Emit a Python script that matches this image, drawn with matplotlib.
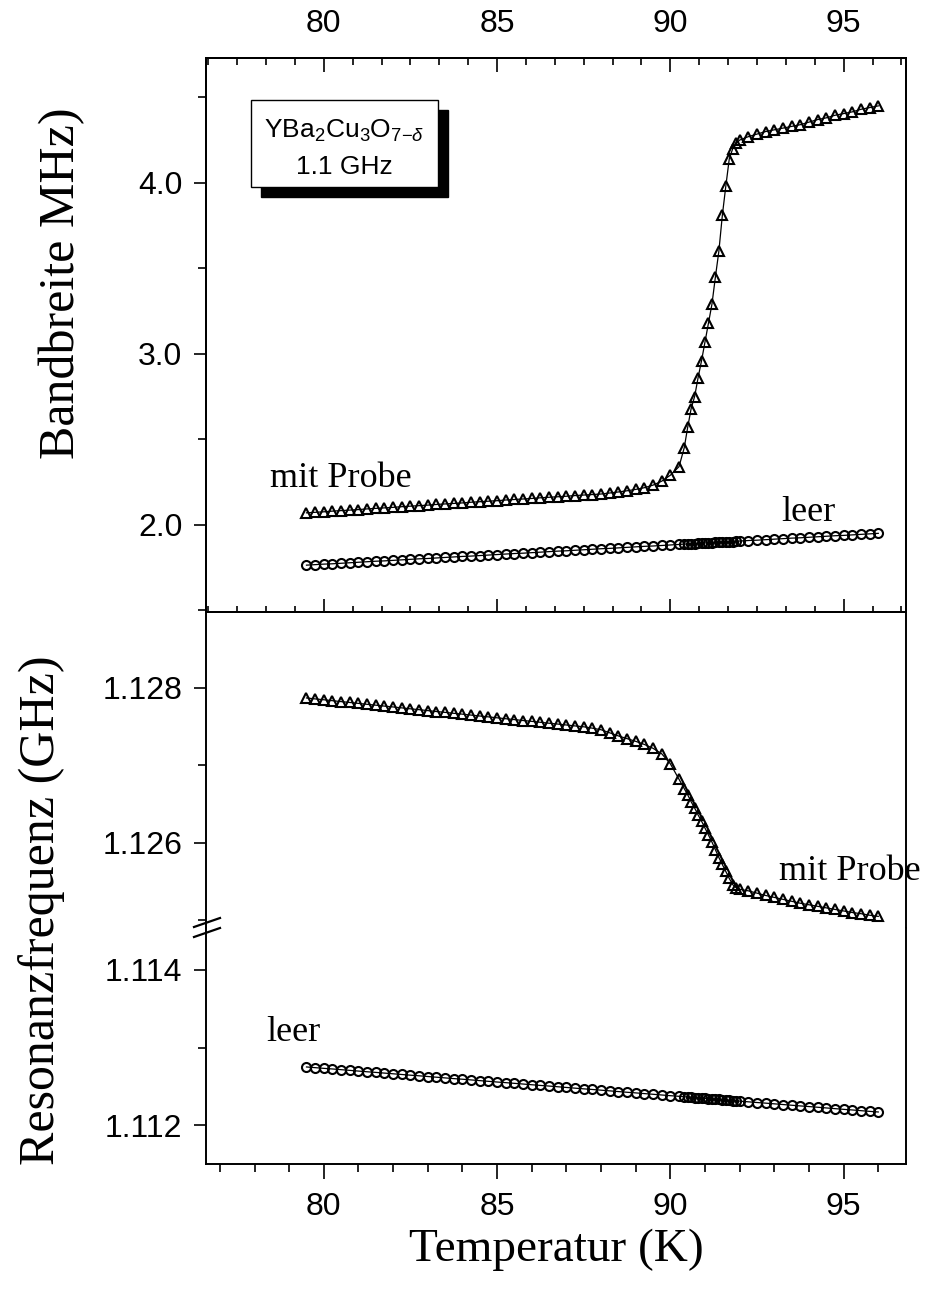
import matplotlib

matplotlib.use("Agg")

import matplotlib.pyplot as plt
from matplotlib.ticker import MultipleLocator, AutoMinorLocator, FormatStrFormatter
from matplotlib.patches import Rectangle
from matplotlib.lines import Line2D

plt.rcParams["font.family"] = ["Liberation Sans", "DejaVu Sans"]
plt.rcParams["mathtext.fontset"] = "custom"
plt.rcParams["mathtext.rm"] = "Liberation Sans"
plt.rcParams["mathtext.it"] = "Liberation Sans:italic"

# temperature points (K), shared by all four series
temp = [79.5, 79.75, 80.0, 80.25, 80.5, 80.75, 81.0, 81.25, 81.5, 81.75,
        82.0, 82.25, 82.5, 82.75, 83.0, 83.25, 83.5, 83.75, 84.0, 84.25,
        84.5, 84.75, 85.0, 85.25, 85.5, 85.75, 86.0, 86.25, 86.5, 86.75,
        87.0, 87.25, 87.5, 87.75, 88.0, 88.25, 88.5, 88.75, 89.0, 89.25,
        89.5, 89.75, 90.0, 90.25, 90.4, 90.5, 90.6, 90.7, 90.8, 90.9,
        91.0, 91.1, 91.2, 91.3, 91.4, 91.5, 91.6, 91.7, 91.8, 91.9,
        92.0, 92.25, 92.5, 92.75, 93.0, 93.25, 93.5, 93.75, 94.0, 94.25,
        94.5, 94.75, 95.0, 95.25, 95.5, 95.75, 96.0]

# bandwidth (MHz), with sample and empty resonator
bw_probe = [2.070, 2.073, 2.076, 2.080, 2.083, 2.086, 2.089, 2.093, 2.096, 2.099,
            2.102, 2.106, 2.109, 2.112, 2.115, 2.119, 2.122, 2.125, 2.128, 2.132,
            2.135, 2.138, 2.141, 2.145, 2.148, 2.151, 2.154, 2.158, 2.161, 2.164,
            2.167, 2.171, 2.174, 2.177, 2.180, 2.186, 2.192, 2.199, 2.207, 2.217,
            2.232, 2.255, 2.290, 2.340, 2.450, 2.570, 2.680, 2.750, 2.860, 2.960,
            3.070, 3.180, 3.290, 3.450, 3.600, 3.810, 3.980, 4.140, 4.200, 4.230,
            4.250, 4.270, 4.285, 4.300, 4.310, 4.320, 4.330, 4.340, 4.355, 4.370,
            4.380, 4.395, 4.405, 4.415, 4.430, 4.440, 4.450]
bw_leer = [1.764, 1.767, 1.770, 1.772, 1.775, 1.778, 1.781, 1.784, 1.787, 1.789,
           1.792, 1.795, 1.798, 1.801, 1.803, 1.806, 1.809, 1.812, 1.815, 1.817,
           1.820, 1.823, 1.826, 1.829, 1.832, 1.834, 1.837, 1.840, 1.843, 1.846,
           1.848, 1.851, 1.854, 1.857, 1.860, 1.862, 1.865, 1.868, 1.871, 1.874,
           1.876, 1.879, 1.882, 1.885, 1.887, 1.888, 1.889, 1.890, 1.891, 1.892,
           1.894, 1.895, 1.896, 1.897, 1.898, 1.899, 1.900, 1.901, 1.902, 1.904,
           1.905, 1.908, 1.910, 1.913, 1.916, 1.919, 1.922, 1.924, 1.927, 1.930,
           1.933, 1.936, 1.938, 1.941, 1.944, 1.947, 1.950]

# resonance frequency (GHz)
f_probe = [1.127870, 1.127858, 1.127847, 1.127835, 1.127823, 1.127812, 1.127800, 1.127788, 1.127777, 1.127765,
           1.127754, 1.127742, 1.127730, 1.127719, 1.127707, 1.127695, 1.127684, 1.127672, 1.127661, 1.127649,
           1.127637, 1.127626, 1.127614, 1.127602, 1.127591, 1.127579, 1.127568, 1.127556, 1.127544, 1.127533,
           1.127521, 1.127509, 1.127498, 1.127480, 1.127460, 1.127420, 1.127380, 1.127345, 1.127310, 1.127270,
           1.127220, 1.127150, 1.127020, 1.126820, 1.126700, 1.126620, 1.126530, 1.126450, 1.126360, 1.126280,
           1.126190, 1.126100, 1.126010, 1.125910, 1.125810, 1.125720, 1.125630, 1.125540, 1.125460, 1.125420,
           1.125400, 1.125380, 1.125350, 1.125320, 1.125295, 1.125270, 1.125245, 1.125220, 1.125200, 1.125180,
           1.125160, 1.125140, 1.125120, 1.125100, 1.125085, 1.125065, 1.125050]
f_leer = [1.112750, 1.112741, 1.112732, 1.112724, 1.112715, 1.112706, 1.112697, 1.112688, 1.112680, 1.112671,
          1.112662, 1.112653, 1.112644, 1.112636, 1.112627, 1.112618, 1.112609, 1.112600, 1.112592, 1.112583,
          1.112574, 1.112565, 1.112556, 1.112548, 1.112539, 1.112530, 1.112521, 1.112512, 1.112504, 1.112495,
          1.112486, 1.112477, 1.112468, 1.112460, 1.112451, 1.112442, 1.112433, 1.112424, 1.112416, 1.112407,
          1.112398, 1.112389, 1.112380, 1.112372, 1.112366, 1.112363, 1.112359, 1.112356, 1.112352, 1.112349,
          1.112346, 1.112342, 1.112338, 1.112335, 1.112331, 1.112328, 1.112324, 1.112321, 1.112317, 1.112314,
          1.112310, 1.112301, 1.112292, 1.112284, 1.112275, 1.112266, 1.112257, 1.112248, 1.112240, 1.112231,
          1.112222, 1.112213, 1.112204, 1.112196, 1.112187, 1.112178, 1.112170]

W, H = 928, 1293
XLIM = (76.6, 96.8)
SERIF = "Liberation Serif"
TICK_FS = 23


def fx(px):
    return px / W


def fy(py):
    return 1 - py / H


fig = plt.figure(figsize=(W / 100, H / 100), dpi=100)
L, R = 206, 906
ax_top = fig.add_axes([fx(L), fy(612), (R - L) / W, (612 - 58) / H])
ax_mid = fig.add_axes([fx(L), fy(928), (R - L) / W, (928 - 612) / H])
ax_low = fig.add_axes([fx(L), fy(1164), (R - L) / W, (1164 - 928) / H])

tri = dict(marker="^", ms=7.5, mfc="none", mec="black", mew=1.5,
           color="black", lw=0.9)
circ = dict(marker="o", ms=6.5, mfc="none", mec="black", mew=1.5,
            color="black", lw=0.9)

ax_top.plot(temp, bw_probe, **tri)
ax_top.plot(temp, bw_leer, **circ)
ax_mid.plot(temp, f_probe, **tri)
ax_low.plot(temp, f_leer, **circ)

for ax in (ax_top, ax_mid, ax_low):
    ax.set_xlim(*XLIM)
    for s in ax.spines.values():
        s.set_linewidth(1.4)
    ax.tick_params(axis="y", which="both", direction="out", right=False,
                   labelsize=TICK_FS, width=1.2, pad=8)
    ax.tick_params(axis="y", which="major", length=9)
    ax.tick_params(axis="y", which="minor", length=6)

# top panel
ax_top.set_ylim(1.49, 4.73)
ax_top.yaxis.set_major_locator(MultipleLocator(1.0))
ax_top.yaxis.set_minor_locator(MultipleLocator(0.5))
ax_top.yaxis.set_major_formatter(FormatStrFormatter("%.1f"))
ax_top.xaxis.set_major_locator(MultipleLocator(5))
ax_top.xaxis.set_minor_locator(AutoMinorLocator(6))
ax_top.tick_params(axis="x", which="both", direction="inout", bottom=True,
                   top=False, labelbottom=False, width=1.2)
ax_top.tick_params(axis="x", which="major", length=19)
ax_top.tick_params(axis="x", which="minor", length=9)

ax_tt = ax_top.twiny()
ax_tt.set_xlim(*XLIM)
ax_tt.xaxis.set_major_locator(MultipleLocator(5))
ax_tt.xaxis.set_minor_locator(AutoMinorLocator(6))
ax_tt.tick_params(axis="x", which="both", direction="in", labelsize=TICK_FS,
                  width=1.2, pad=14)
ax_tt.tick_params(axis="x", which="major", length=10)
ax_tt.tick_params(axis="x", which="minor", length=5)
for s in ax_tt.spines.values():
    s.set_linewidth(1.4)

# broken frequency axis
ax_mid.set_ylim(1.12490, 1.12898)
ax_low.set_ylim(1.11150, 1.11454)
for ax in (ax_mid, ax_low):
    ax.yaxis.set_major_locator(MultipleLocator(0.002))
    ax.yaxis.set_minor_locator(MultipleLocator(0.001))
    ax.yaxis.set_major_formatter(FormatStrFormatter("%.3f"))
ax_mid.spines["bottom"].set_visible(False)
ax_low.spines["top"].set_visible(False)
ax_mid.tick_params(axis="x", which="both", bottom=False, top=False,
                   labelbottom=False)
ax_low.xaxis.set_major_locator(MultipleLocator(5))
ax_low.xaxis.set_minor_locator(MultipleLocator(1))
ax_low.tick_params(axis="x", which="both", direction="out", top=False,
                   labelsize=TICK_FS, width=1.2, pad=9)
ax_low.tick_params(axis="x", which="major", length=11)
ax_low.tick_params(axis="x", which="minor", length=6)

# break marks on the left axis
for y0 in (927, 937):
    fig.add_artist(Line2D([fx(194), fx(220)], [fy(y0), fy(y0 - 9)],
                          color="black", lw=1.6, transform=fig.transFigure))

# annotations
ax_top.text(78.44, 2.27, "mit Probe", family=SERIF, fontsize=26,
            ha="left", va="center")
ax_top.text(93.2, 2.07, "leer", family=SERIF, fontsize=26,
            ha="left", va="center")
ax_mid.text(93.14, 1.12563, "mit Probe", family=SERIF, fontsize=26,
            ha="left", va="center")
ax_low.text(78.34, 1.11319, "leer", family=SERIF, fontsize=26,
            ha="left", va="center")

# sample box with shadow
bx0, by0, bx1, by1 = 251, 100, 438, 187
fig.add_artist(Rectangle((fx(bx0 + 10), fy(by1 + 10)), (bx1 - bx0) / W,
                         (by1 - by0) / H, facecolor="black", edgecolor="black",
                         transform=fig.transFigure))
fig.add_artist(Rectangle((fx(bx0), fy(by1)), (bx1 - bx0) / W, (by1 - by0) / H,
                         facecolor="white", edgecolor="black", lw=1.0,
                         transform=fig.transFigure))
fig.text(fx((bx0 + bx1) / 2), fy(131), r"YBa$_2$Cu$_3$O$_{7\mathrm{-}\delta}$",
         ha="center", va="center", fontsize=19)
fig.text(fx((bx0 + bx1) / 2), fy(167), "1.1 GHz", ha="center", va="center",
         fontsize=19)

# axis labels
fig.text(fx(62), fy(283), "Bandbreite MHz)", rotation=90, family=SERIF,
         fontsize=36, ha="center", va="center")
fig.text(fx(42), fy(910), "Resonanzfrequenz (GHz)", rotation=90, family=SERIF,
         fontsize=36, ha="center", va="center")
fig.text(fx(556), fy(1250), "Temperatur (K)", family=SERIF, fontsize=34,
         ha="center", va="center")

plt.savefig("out.png", dpi=100)
